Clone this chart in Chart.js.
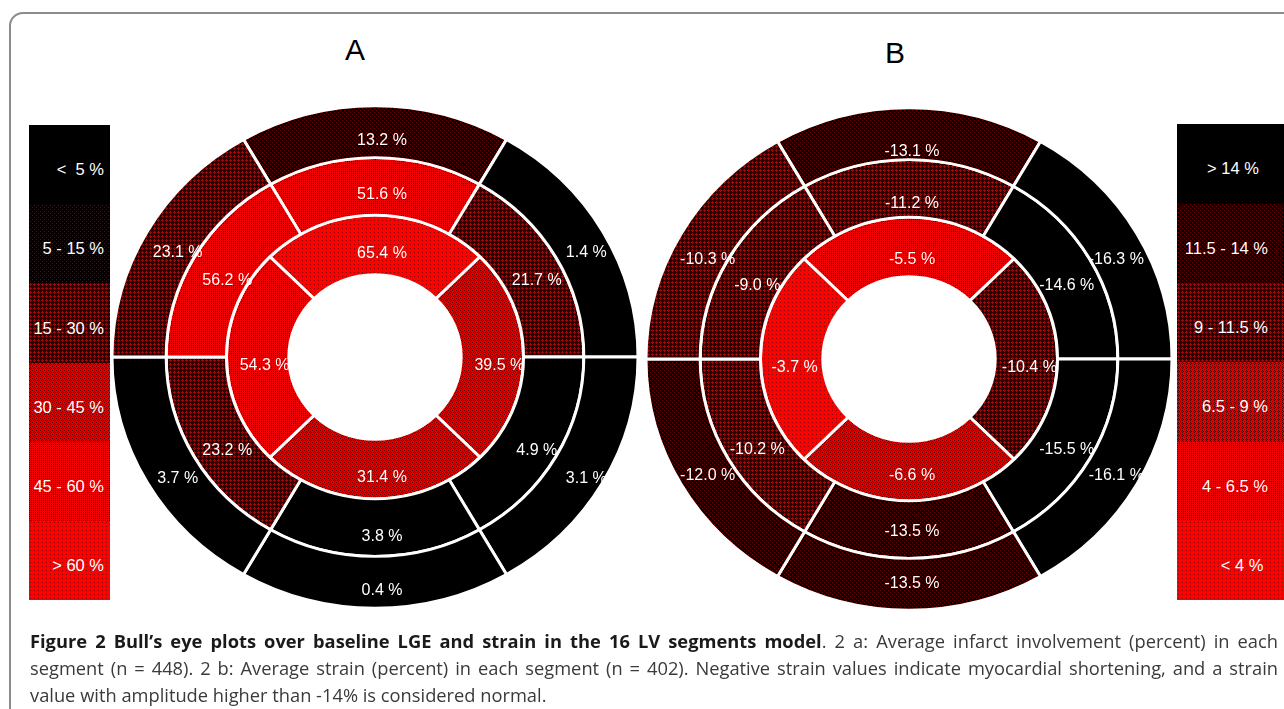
<!DOCTYPE html>
<html>
<head>
<meta charset="utf-8">
<script src="https://cdn.jsdelivr.net/npm/chart.js@4.4.0/dist/chart.umd.min.js"></script>
<style>
  body { margin: 0; width: 1284px; height: 709px; overflow: hidden; background: #fff; position: relative;
         font-family: "Liberation Sans", Arial, sans-serif; }
  .frame { position: absolute; left: 9px; top: 12px; width: 1320px; height: 740px;
           border: 2px solid #8c8c8c; border-radius: 14px; box-sizing: border-box; }
  .title { position: absolute; font-size: 30px; line-height: 30px; color: #000; transform: translateX(-50%); }
  .bull { position: absolute; width: 540px; height: 540px; }
  .legend { position: absolute; }
  .band { position: absolute; left: 0; right: 0; color: #fff; font-size: 16.5px; text-align: right;
          white-space: pre; image-rendering: pixelated; box-sizing: border-box; }
  .caption { position: absolute; left: 30px; width: 1248px; font-family: "Open Sans", sans-serif;
             font-size: 18.3px; color: #3a3a3a; }
  .caption div { height: 27px; line-height: 27px; text-align: justify; text-align-last: justify; white-space: nowrap; }
  .caption div.last { text-align-last: left; }
  .caption b { color: #1a1a1a; }
</style>
</head>
<body>
<div class="frame"></div>
<div class="title" style="left:355px;top:35px">A</div>
<div class="title" style="left:895px;top:38px">B</div>

<div class="legend" id="legA" style="left:29px;top:125px;width:81px;height:475px"></div>
<div class="legend" id="legB" style="left:1177px;top:124px;width:107px;height:476px"></div>

<canvas id="chartA" class="bull" width="540" height="540" style="left:105px;top:87px"></canvas>
<canvas id="chartB" class="bull" width="540" height="540" style="left:639px;top:89px"></canvas>

<div class="caption" style="top:627px">
  <div><b>Figure 2 Bull’s eye plots over baseline LGE and strain in the 16 LV segments model</b>. 2 a: Average infarct involvement (percent) in each</div>
  <div>segment (n = 448). 2 b: Average strain (percent) in each segment (n = 402). Negative strain values indicate myocardial shortening, and a strain</div>
  <div class="last">value with amplitude higher than -14% is considered normal.</div>
</div>

<script>
// segment order, clockwise: top, upper-right, lower-right, bottom, lower-left, upper-left
// apical ring: top, right, bottom, left
const basalA = [13.2, 1.4, 3.1, 0.4, 3.7, 23.1];
const midA = [51.6, 21.7, 4.9, 3.8, 23.2, 56.2];
const apicalA = [65.4, 39.5, 31.4, 54.3];

const basalB = [-13.1, -16.3, -16.1, -13.5, -12.0, -10.3];
const midB = [-11.2, -14.6, -15.5, -13.5, -10.2, -9.0];
const apicalB = [-5.5, -10.4, -6.6, -3.7];

const thresholdsA = [5, 15, 30, 45, 60];
const thresholdsB = [4, 6.5, 9, 11.5, 14];
const legendLabelsA = ['<  5 %', '5 - 15 %', '15 - 30 %', '30 - 45 %', '45 - 60 %', '> 60 %'];
const legendLabelsB = ['> 14 %  ', '11.5 - 14 %', '9 - 11.5 %', '6.5 - 9 %', '4 - 6.5 %', '< 4 % '];

const SQUASH = 0.955; // the plots are a bit flatter than round

// small tiles for the dotted / hatched fills
function makeTile(w, h, bg, fg, pts) {
  const c = document.createElement('canvas');
  c.width = w; c.height = h;
  const x = c.getContext('2d');
  x.fillStyle = bg;
  x.fillRect(0, 0, w, h);
  x.fillStyle = fg;
  pts.forEach(p => x.fillRect(p[0], p[1], 1, 1));
  return c;
}

const tiles = [
  makeTile(1, 1, '#000', '#000', []),
  makeTile(4, 4, '#080000', '#700000', [[1, 1], [3, 3]]),
  makeTile(4, 4, '#300000', '#b00000', [[1, 0], [0, 1], [1, 1], [2, 1], [1, 2]]),
  makeTile(4, 4, '#e00000', '#500000', [[1, 0], [0, 1], [2, 1], [1, 2], [3, 3]]),
  makeTile(2, 2, '#f00000', '#700000', [[0, 0]]),
  makeTile(4, 4, '#ff0000', '#900000', [[1, 1]])
];

function classA(v) { return thresholdsA.filter(t => v >= t).length; }
function classB(v) { return thresholdsB.filter(t => Math.abs(v) < t).length; }

function buildLegend(id, labels, padRight) {
  const el = document.getElementById(id);
  const total = el.offsetHeight;
  labels.forEach((txt, i) => {
    const top = Math.round(i * total / labels.length);
    const bottom = Math.round((i + 1) * total / labels.length);
    const d = document.createElement('div');
    d.className = 'band';
    d.style.top = top + 'px';
    d.style.height = (bottom - top) + 'px';
    d.style.lineHeight = (bottom - top) + 'px';
    d.style.paddingTop = '5px';
    d.style.paddingRight = padRight + 'px';
    d.style.backgroundImage = 'url(' + tiles[i].toDataURL() + ')';
    d.textContent = txt;
    el.appendChild(d);
  });
}
buildLegend('legA', legendLabelsA, 6);
buildLegend('legB', legendLabelsB, 16);

// flatten the rings vertically around the chart centre
const squash = {
  id: 'squash',
  beforeDatasetsDraw(chart) {
    const ctx = chart.ctx;
    const c = chart.getDatasetMeta(0).data[0];
    ctx.save();
    ctx.translate(c.x, c.y);
    ctx.scale(1, SQUASH);
    ctx.translate(-c.x, -c.y);
  },
  afterDatasetsDraw(chart) {
    chart.ctx.restore();
  }
};

const segLabels = {
  id: 'segLabels',
  afterDatasetsDraw(chart) {
    const ctx = chart.ctx;
    const o = chart.config.options;
    ctx.save();
    ctx.fillStyle = '#fff';
    ctx.font = '16px "Liberation Sans", Arial, sans-serif';
    ctx.textAlign = 'center';
    ctx.textBaseline = 'middle';
    o.ringValues.forEach((vals, i) => {
      chart.getDatasetMeta(i).data.forEach((arc, j) => {
        const p = arc.getProps(['x', 'y', 'startAngle', 'endAngle', 'innerRadius', 'outerRadius']);
        const a = (p.startAngle + p.endAngle) / 2;
        const r = (p.innerRadius + p.outerRadius) / 2;
        const tx = p.x + Math.cos(a) * r + o.labelShift[0];
        const ty = p.y + (Math.sin(a) * r * o.labelSquash + o.labelShift[1]) * SQUASH;
        ctx.fillText(vals[j].toFixed(1) + ' %', tx, ty);
      });
    });
    ctx.restore();
  }
};

function bullseye(id, basal, mid, apical, cls, lblSquash, shift) {
  const canvas = document.getElementById(id);
  const ctx = canvas.getContext('2d');
  const cx = canvas.width / 2, cy = canvas.height / 2;
  // keep the fill pixels unscaled while the rings are flattened
  const undo = new DOMMatrix().translate(cx, cy).scale(1, 1 / SQUASH).translate(-cx, -cy);
  const fill = v => {
    const p = ctx.createPattern(tiles[cls(v)], 'repeat');
    p.setTransform(undo);
    return p;
  };
  const ring = (vals, rot, w) => ({
    data: vals.map(() => 1),
    rotation: rot,
    weight: w,
    backgroundColor: vals.map(fill),
    borderColor: '#fff',
    borderWidth: 3
  });
  return new Chart(ctx, {
    type: 'doughnut',
    data: {
      labels: basal.map((v, i) => 'S' + (i + 1)),
      datasets: [ring(basal, -30, 53), ring(mid, -30, 59), ring(apical, -45, 61)]
    },
    options: {
      responsive: false,
      animation: false,
      events: [],
      radius: 263,
      cutout: 88,
      ringValues: [basal, mid, apical],
      labelSquash: lblSquash,
      labelShift: shift,
      plugins: { legend: { display: false }, tooltip: { enabled: false } }
    },
    plugins: [squash, segLabels]
  });
}

bullseye('chartA', basalA, midA, apicalA, classA, 1.0, [7, 9]);
bullseye('chartB', basalB, midB, apicalB, classB, 0.96, [3, 9]);
</script>
</body>
</html>
